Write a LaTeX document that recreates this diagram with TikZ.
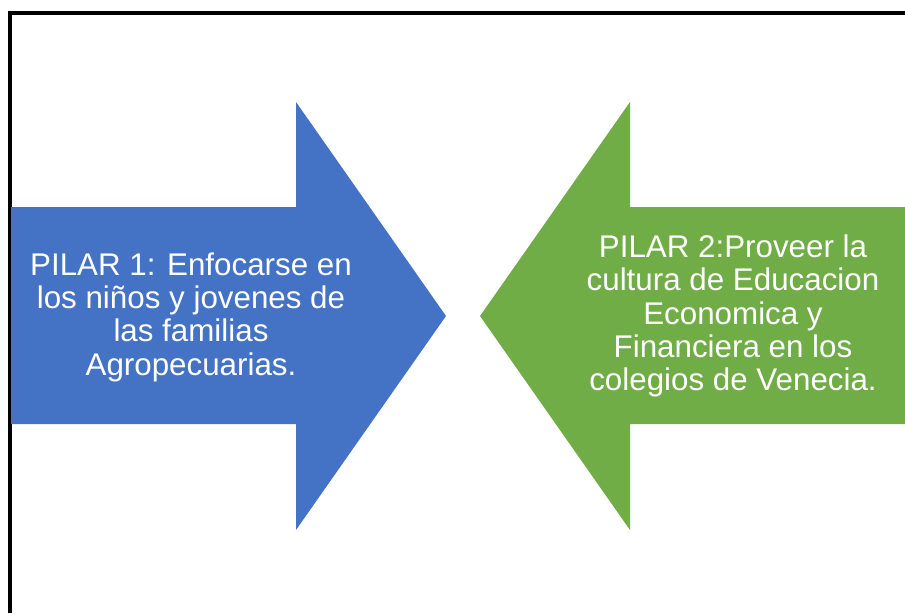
\documentclass[tikz,border=0pt]{standalone}
\usepackage{fontspec}
\setmainfont{Liberation Sans}
\usepackage{tikz}
\usetikzlibrary{positioning}

\definecolor{pilarblue}{HTML}{4472C4}
\definecolor{pilargreen}{HTML}{70AD47}

\begin{document}
\begin{tikzpicture}[x=0.75pt, y=-0.75pt, every node/.style={align=center, text=white, font=\fontsize{23.5}{25}\selectfont, inner sep=0pt}]
        \useasboundingbox (0,0) rectangle (905,613);

        % frame, open on right and bottom
        \draw[line width=3pt, line join=miter] (9.5,613) -- (9.5,13.5) -- (905,13.5);

        % the two arrows
        \fill[pilarblue] (11,207) -- (296,207) -- (296,102) -- (446,316) -- (296,530) -- (296,424) -- (11,424) -- cycle;
        \fill[pilargreen] (905,207) -- (630,207) -- (630,102) -- (480,316) -- (630,530) -- (630,424) -- (905,424) -- cycle;

        \node (pilar1) at (191,317) {PILAR 1: Enfocarse en \\ los niños y jovenes de \\ las familias \\ Agropecuarias.};
        \node (pilar2) at (733,316) {PILAR 2:Proveer la \\ cultura de Educacion \\ Economica y \\ Financiera en los \\ colegios de Venecia.};
    \end{tikzpicture}
\end{document}
